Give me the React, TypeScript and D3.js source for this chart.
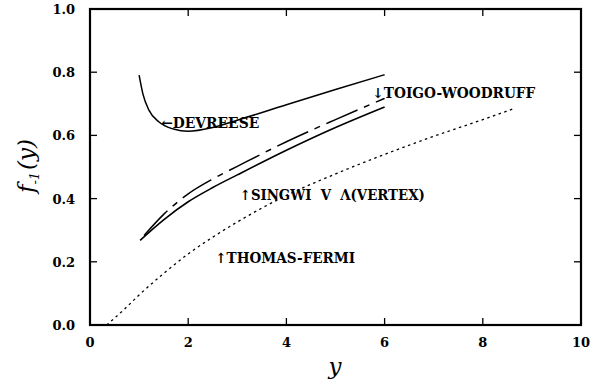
import React from "react";
import * as d3 from "d3";

const W = 598;
const H = 383;

const xTicks = [0, 2, 4, 6, 8, 10];
const yTicks = [0, 0.2, 0.4, 0.6, 0.8, 1.0];

const devreeseX = [1.0, 1.08, 1.2, 1.4, 1.7, 2.0, 2.5, 3.0, 4.0, 5.0, 6.0];
const devreeseY = [0.791, 0.73, 0.68, 0.643, 0.62, 0.613, 0.625, 0.648, 0.697, 0.745, 0.792];

const toigoX = [1.1, 1.5, 2.0, 2.5, 3.0, 4.0, 5.0, 6.0];
const toigoY = [0.283, 0.35, 0.415, 0.462, 0.502, 0.58, 0.65, 0.717];

const singwiX = [1.02, 1.5, 2.0, 2.5, 3.0, 4.0, 5.0, 6.0];
const singwiY = [0.268, 0.333, 0.39, 0.435, 0.475, 0.553, 0.625, 0.69];

const tfX = [0.34, 0.7, 1.0, 1.5, 2.0, 2.5, 3.0, 4.0, 5.0, 6.0, 7.0, 8.0, 8.62];
const tfY = [0, 0.05, 0.095, 0.163, 0.225, 0.278, 0.326, 0.41, 0.478, 0.54, 0.597, 0.65, 0.684];

const labels = [
  { text: "\u2190DEVREESE", x: 1.45, y: 0.623, len: 98 },
  { text: "\u2193TOIGO-WOODRUFF", x: 5.75, y: 0.717, len: 163 },
  { text: "\u2191SINGWI  V  \u039B(VERTEX)", x: 3.05, y: 0.395, len: 185 },
  { text: "\u2191THOMAS-FERMI", x: 2.55, y: 0.196, len: 140 },
];

const x = d3.scaleLinear().domain([0, 10]).range([90, 581]);
const y = d3.scaleLinear().domain([0, 1]).range([325, 9]);

function pathOf(xs: number[], ys: number[]) {
  const pts: [number, number][] = xs.map((v, i) => [v, ys[i]]);
  return (
    d3
      .line<[number, number]>()
      .x((d) => x(d[0]))
      .y((d) => y(d[1]))
      .curve(d3.curveMonotoneX)(pts) || ""
  );
}

export default function App() {
  const tickFont = "'DejaVu Serif', serif";
  const tickLen = 7;
  return (
    <svg width={W} height={H} style={{ position: "absolute", left: 0, top: 0, background: "#fff" }}>
      <rect x={0} y={0} width={W} height={H} fill="#fff" />
      {/* frame */}
      <rect x={x(0)} y={y(1)} width={x(10) - x(0)} height={y(0) - y(1)} fill="none" stroke="#000" strokeWidth={2.2} />
      {/* x ticks */}
      {xTicks.map((t) => (
        <g key={"x" + t}>
          <line x1={x(t)} x2={x(t)} y1={y(0)} y2={y(0) - tickLen} stroke="#000" strokeWidth={1.3} />
          <line x1={x(t)} x2={x(t)} y1={y(1)} y2={y(1) + tickLen} stroke="#000" strokeWidth={1.3} />
          <text x={x(t)} y={347} textAnchor="middle" fontFamily={tickFont} fontWeight="bold" fontSize={13}>
            {t}
          </text>
        </g>
      ))}
      {/* y ticks */}
      {yTicks.map((t) => (
        <g key={"y" + t}>
          <line x1={x(0)} x2={x(0) + tickLen} y1={y(t)} y2={y(t)} stroke="#000" strokeWidth={1.3} />
          <line x1={x(10)} x2={x(10) - tickLen} y1={y(t)} y2={y(t)} stroke="#000" strokeWidth={1.3} />
          <text x={75} y={y(t) + 5} textAnchor="end" fontFamily={tickFont} fontWeight="bold" fontSize={13}>
            {d3.format(".1f")(t)}
          </text>
        </g>
      ))}
      {/* curves */}
      <path d={pathOf(devreeseX, devreeseY)} fill="none" stroke="#000" strokeWidth={1.5} />
      <path d={pathOf(singwiX, singwiY)} fill="none" stroke="#000" strokeWidth={1.6} />
      <path d={pathOf(toigoX, toigoY)} fill="none" stroke="#000" strokeWidth={1.5} strokeDasharray="34,7,6,7" />
      <path d={pathOf(tfX, tfY)} fill="none" stroke="#000" strokeWidth={1.3} strokeDasharray="2.5,3.5" />
      {/* labels */}
      {labels.map((l) => (
        <text
          key={l.text}
          x={x(l.x)}
          y={y(l.y)}
          fontFamily="'DejaVu Serif', serif"
          fontWeight="bold"
          fontSize={14}
          textLength={l.len}
          lengthAdjust="spacingAndGlyphs"
          style={{ whiteSpace: "pre" }}
        >
          {l.text}
        </text>
      ))}
      {/* axis titles */}
      <text x={335} y={374} textAnchor="middle" fontFamily="'DejaVu Serif', serif" fontStyle="italic" fontSize={23}>
        y
      </text>
      <text
        transform="translate(34,166) rotate(-90)"
        textAnchor="middle"
        fontFamily="'DejaVu Serif', serif"
        fontStyle="italic"
        fontSize={23}
      >
        f
        <tspan fontSize={13} dy={5}>-1</tspan>
        <tspan dy={-5} dx={2}>(y)</tspan>
      </text>
    </svg>
  );
}
